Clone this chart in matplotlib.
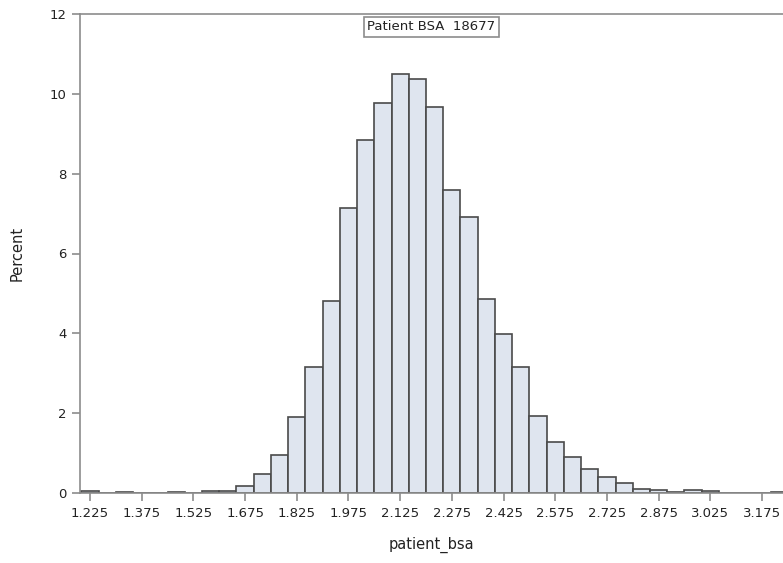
import numpy as np
import matplotlib.pyplot as plt

# bin centres (width 0.05) and percent per bin
bin_centers = np.round(np.arange(1.225, 3.2251, 0.05), 3)
percent = [0.05, 0.0, 0.03, 0.01, 0.0, 0.02, 0.01, 0.04, 0.05, 0.17,
           0.48, 0.96, 1.9, 3.15, 4.8, 7.15, 8.85, 9.78, 10.5, 10.38,
           9.67, 7.58, 6.92, 4.85, 3.98, 3.15, 1.92, 1.29, 0.89, 0.61,
           0.39, 0.26, 0.09, 0.07, 0.02, 0.08, 0.05, 0.01, 0.01, 0.01,
           0.03]
xticks = [1.225, 1.375, 1.525, 1.675, 1.825, 1.975, 2.125, 2.275,
          2.425, 2.575, 2.725, 2.875, 3.025, 3.175]
yticks = [0, 2, 4, 6, 8, 10, 12]
n_obs = 18677

plt.rcParams['font.family'] = ['DejaVu Sans']

fig = plt.figure(figsize=(7.83, 5.63), dpi=100)
ax = fig.add_axes([80 / 783, 1 - 493 / 563, 1 - 80 / 783, (493 - 14) / 563])

ax.bar(bin_centers, percent, width=0.05, color='#dfe5ef',
       edgecolor='#4a4a4a', linewidth=1.2, zorder=2)

ax.set_xlim(1.196, 3.236)
ax.set_ylim(0, 12)
ax.set_xticks(xticks)
ax.set_xticklabels([f'{t:.3f}' for t in xticks])
ax.set_yticks(yticks)

for side in ['left', 'top', 'bottom']:
    ax.spines[side].set_color('#8c8c8c')
    ax.spines[side].set_linewidth(1.2)
ax.spines['right'].set_visible(False)
ax.tick_params(colors='#8c8c8c', length=6, width=1.2, labelcolor='#222222',
               labelsize=9.5)
ax.tick_params(axis='x', pad=4)

ax.set_xlabel('patient_bsa', fontsize=10.5, color='#222222', labelpad=12)
ax.set_ylabel('Percent', fontsize=10.5, color='#222222', labelpad=18)

ax.text(0.5, 0.973, f'Patient BSA  {n_obs}', transform=ax.transAxes,
        ha='center', va='center', fontsize=9.5, color='#222222',
        bbox=dict(boxstyle='square,pad=0.25', facecolor='white',
                  edgecolor='#8c8c8c', linewidth=1.2))

fig.savefig('out.png', dpi=100)
